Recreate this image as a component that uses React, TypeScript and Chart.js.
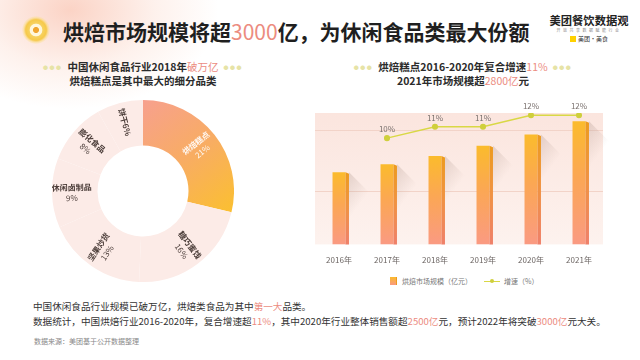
import React, { useEffect, useRef } from "react";
import { Chart, registerables } from "chart.js";

Chart.register(...registerables);

// ---------- data ----------
const pieCategories = ["烘焙糕点", "糖巧蜜饯", "坚果炒货", "休闲卤制品", "膨化食品", "饼干"];
const pieShares = [21, 16, 13, 9, 8, 6];

const years = ["2016年", "2017年", "2018年", "2019年", "2020年", "2021年"];
const marketSize = [1650, 1830, 2020, 2250, 2510, 2810];
const growthRate: (number | null)[] = [null, 10, 11, 11, 12, 12];
const gridValues = [1200, 2600];

const barLabel = "烘焙市场规模（亿元）";
const lineLabel = "增速（%）";

const FONT = '"Noto Sans CJK SC", "Noto Sans", sans-serif';
const HL = "#ec8c7f";
const LINE_COLOR = "#d9d845";
const PINK = "#fcebe7";
const SIDE = 3.5;

// ---------- doughnut ----------
const doughnutLabels = {
  id: "doughnutLabels",
  afterDatasetsDraw(chart: any) {
    const meta = chart.getDatasetMeta(0);
    const ctx = chart.ctx as CanvasRenderingContext2D;
    const data = chart.data.datasets[0].data as number[];
    const labels = chart.data.labels as string[];
    meta.data.forEach((arc: any, i: number) => {
      const p = arc.getProps(["x", "y", "startAngle", "endAngle", "innerRadius", "outerRadius"], true);
      const mid = (p.startAngle + p.endAngle) / 2;
      const r = (p.innerRadius + p.outerRadius) / 2 + 3;
      const px = p.x + Math.cos(mid) * r;
      const py = p.y + Math.sin(mid) * r;
      const rot = Math.cos(mid) < 0 ? mid - Math.PI : mid;
      const span = ((p.endAngle - p.startAngle) * 180) / Math.PI;
      ctx.save();
      ctx.translate(px, py);
      ctx.rotate(rot);
      ctx.textAlign = "center";
      ctx.textBaseline = "middle";
      ctx.fillStyle = i === 0 ? "rgba(255,255,255,0.92)" : "#4a3c38";
      if (span < 35) {
        ctx.font = `bold 8px ${FONT}`;
        ctx.fillText(`${labels[i]}${data[i]}%`, 0, 0);
      } else {
        ctx.font = `bold 8px ${FONT}`;
        ctx.fillText(labels[i], 0, -5);
        ctx.font = `8px ${FONT}`;
        ctx.fillText(`${data[i]}%`, 0, 5.5);
      }
      ctx.restore();
    });
  },
};

function DoughnutChart() {
  const ref = useRef<HTMLCanvasElement>(null);
  useEffect(() => {
    const chart = new Chart(ref.current!, {
      type: "doughnut",
      data: {
        labels: pieCategories,
        datasets: [
          {
            data: pieShares,
            borderWidth: 0,
            backgroundColor: (c: any) => {
              if (c.dataIndex !== 0) return PINK;
              const area = c.chart.chartArea;
              if (!area) return "#f8b060";
              const cx = (area.left + area.right) / 2;
              const cy = (area.top + area.bottom) / 2;
              const rr = (area.right - area.left) / 2;
              const g = c.chart.ctx.createLinearGradient(cx, cy - rr, cx + rr, cy + rr * 0.3);
              g.addColorStop(0, "#f7a08e");
              g.addColorStop(0.5, "#f8ad62");
              g.addColorStop(1, "#fbc12c");
              return g;
            },
          },
        ],
      },
      options: {
        responsive: false,
        animation: false,
        cutout: "50%",
        layout: { padding: 0 },
        plugins: { legend: { display: false }, tooltip: { enabled: false } },
      },
      plugins: [doughnutLabels],
    } as any);
    return () => chart.destroy();
  }, []);
  return (
    <canvas
      ref={ref}
      width={182}
      height={182}
      style={{ position: "absolute", left: 52, top: 100, width: 182, height: 182 }}
    />
  );
}

// ---------- bar + line ----------
const plotBackground = {
  id: "plotBackground",
  beforeDraw(chart: any) {
    const { ctx, chartArea: a } = chart;
    if (!a) return;
    ctx.save();
    const g = ctx.createLinearGradient(0, a.top, 0, a.bottom);
    g.addColorStop(0, "#fbe5de");
    g.addColorStop(1, "#fdf2ee");
    ctx.fillStyle = g;
    ctx.fillRect(a.left, a.top, a.right - a.left, a.bottom - a.top);
    ctx.restore();
  },
};

const bar3d = {
  id: "bar3d",
  beforeDatasetsDraw(chart: any) {
    const meta = chart.getDatasetMeta(1);
    const ctx = chart.ctx as CanvasRenderingContext2D;
    ctx.save();
    meta.data.forEach((bar: any) => {
      const p = bar.getProps(["x", "y", "base", "width"], true);
      const xr = p.x + p.width / 2 + SIDE;
      const len = 28;
      const g = ctx.createLinearGradient(xr, p.y, xr + len * 0.8, p.y + len * 0.6);
      g.addColorStop(0, "rgba(175,150,140,0.32)");
      g.addColorStop(1, "rgba(175,150,140,0)");
      ctx.fillStyle = g;
      ctx.beginPath();
      ctx.moveTo(xr, p.y);
      ctx.lineTo(xr + len, p.y + len);
      ctx.lineTo(xr + len, p.y + len + 30);
      ctx.lineTo(xr, Math.min(p.base, p.y + 70));
      ctx.closePath();
      ctx.fill();
    });
    ctx.restore();
  },
  afterDatasetDraw(chart: any, args: any) {
    if (args.index !== 1) return;
    const meta = chart.getDatasetMeta(1);
    const ctx = chart.ctx as CanvasRenderingContext2D;
    ctx.save();
    meta.data.forEach((bar: any) => {
      const p = bar.getProps(["x", "y", "base", "width"], true);
      const xl = p.x + p.width / 2;
      const g = ctx.createLinearGradient(0, p.y, 0, p.base);
      g.addColorStop(0, "#ec9b1e");
      g.addColorStop(0.5, "#f09244");
      g.addColorStop(1, "#ef806a");
      ctx.fillStyle = g;
      ctx.beginPath();
      ctx.moveTo(xl, p.y);
      ctx.lineTo(xl + SIDE, p.y + 1.5);
      ctx.lineTo(xl + SIDE, p.base);
      ctx.lineTo(xl, p.base);
      ctx.closePath();
      ctx.fill();
    });
    ctx.restore();
  },
  afterDatasetsDraw(chart: any) {
    const meta = chart.getDatasetMeta(0);
    const ctx = chart.ctx as CanvasRenderingContext2D;
    const data = chart.data.datasets[0].data as (number | null)[];
    ctx.save();
    ctx.font = `8px ${FONT}`;
    ctx.fillStyle = "#7a716e";
    ctx.textAlign = "center";
    ctx.textBaseline = "bottom";
    meta.data.forEach((pt: any, i: number) => {
      if (data[i] == null) return;
      const p = pt.getProps(["x", "y"], true);
      ctx.fillText(`${data[i]}%`, p.x, p.y - 5);
    });
    ctx.restore();
  },
};

function BarLineChart() {
  const ref = useRef<HTMLCanvasElement>(null);
  useEffect(() => {
    const chart = new Chart(ref.current!, {
      type: "bar",
      data: {
        labels: years,
        datasets: [
          {
            type: "line",
            label: lineLabel,
            data: growthRate,
            yAxisID: "y1",
            borderColor: LINE_COLOR,
            backgroundColor: LINE_COLOR,
            pointBackgroundColor: "#cfcf3c",
            pointBorderColor: "#cfcf3c",
            borderWidth: 1.5,
            pointRadius: 2.3,
            tension: 0,
            order: 0,
          },
          {
            type: "bar",
            label: barLabel,
            data: marketSize,
            yAxisID: "y",
            barPercentage: 0.27,
            categoryPercentage: 1,
            borderWidth: 0,
            order: 1,
            backgroundColor: (c: any) => {
              const y = c.chart.scales?.y;
              if (!y || c.raw == null) return "#f9ad50";
              const top = y.getPixelForValue(c.raw);
              const base = y.getPixelForValue(0);
              if (!isFinite(top) || !isFinite(base)) return "#f9ad50";
              const g = c.chart.ctx.createLinearGradient(0, top, 0, base);
              g.addColorStop(0, "#fbbb2c");
              g.addColorStop(0.45, "#fba754");
              g.addColorStop(1, "#fa9a82");
              return g;
            },
          },
        ],
      },
      options: {
        responsive: false,
        animation: false,
        layout: { padding: { left: 15, right: 27, top: 18, bottom: 2 } },
        plugins: { legend: { display: false }, tooltip: { enabled: false } },
        scales: {
          x: {
            grid: { display: false },
            border: { display: false },
            ticks: { font: { size: 8, family: FONT }, color: "#6b6462", padding: 3 },
          },
          y: {
            min: 0,
            max: 3000,
            position: "left",
            ticks: { display: false },
            grid: { color: "#f2d3c8", drawTicks: false, lineWidth: 1 },
            border: { display: false },
            afterBuildTicks: (s: any) => {
              s.ticks = gridValues.map((v) => ({ value: v }));
            },
          },
          y1: { min: 0.7, max: 12.2, display: false },
        },
      },
      plugins: [plotBackground, bar3d],
    } as any);
    return () => chart.destroy();
  }, []);
  return (
    <canvas
      ref={ref}
      width={330}
      height={175}
      style={{ position: "absolute", left: 300, top: 95, width: 330, height: 175 }}
    />
  );
}

// ---------- page ----------
const Dots = () => (
  <span style={{ color: "#e6e3a6", fontSize: 5, letterSpacing: 1.5, margin: "0 5px", verticalAlign: "2px" }}>●●●</span>
);

export default function App() {
  return (
    <div
      style={{
        position: "absolute",
        left: 0,
        top: 0,
        width: 640,
        height: 360,
        overflow: "hidden",
        background: "#ffffff",
        fontFamily: FONT,
      }}
    >
      <div
        style={{
          position: "absolute",
          left: -80,
          top: -90,
          width: 300,
          height: 200,
          background: "radial-gradient(ellipse at center, rgba(248,175,150,0.55) 0%, rgba(250,200,180,0.25) 40%, rgba(255,255,255,0) 70%)",
        }}
      />
      {/* icon */}
      <div
        style={{
          position: "absolute",
          left: 22,
          top: 16,
          width: 28,
          height: 28,
          borderRadius: "50%",
          background:
            "radial-gradient(circle, #f0a530 0%, #f0a530 14%, #fff7dc 16%, #fff7dc 30%, #f7d260 34%, #f6c94a 52%, rgba(250,220,120,0.5) 62%, rgba(255,255,255,0) 72%)",
        }}
      />
      {/* title */}
      <div
        style={{
          position: "absolute",
          left: 63,
          top: 19,
          fontSize: 21,
          fontWeight: 700,
          color: "#1f1f1f",
          lineHeight: "24px",
          whiteSpace: "nowrap",
        }}
      >
        烘焙市场规模将超<span style={{ color: HL, fontWeight: 400 }}>3000</span>亿，为休闲食品类最大份额
      </div>
      {/* logo */}
      <div style={{ position: "absolute", left: 548, top: 13, width: 82, textAlign: "center", whiteSpace: "nowrap" }}>
        <div style={{ fontSize: 11.3, fontWeight: 700, color: "#222", lineHeight: "14px" }}>美团餐饮数据观</div>
        <div style={{ fontSize: 4, color: "#888", lineHeight: "6px", letterSpacing: 2.5 }}>开放共享数据赋能行业</div>
        <div style={{ fontSize: 6, color: "#333", lineHeight: "9px", marginTop: 1 }}>
          <span style={{ display: "inline-block", width: 6, height: 6, background: "#ffd100", marginRight: 2, verticalAlign: "-1px" }} />
          美团·美食
        </div>
      </div>

      {/* left subtitle */}
      <div
        style={{
          position: "absolute",
          left: 22,
          width: 242,
          top: 60,
          textAlign: "center",
          fontSize: 10.5,
          fontWeight: 700,
          color: "#2b2b2b",
          lineHeight: "14px",
          whiteSpace: "nowrap",
        }}
      >
        <div>
          <Dots />中国休闲食品行业2018年<span style={{ color: HL, fontWeight: 400 }}>破万亿</span>
          <Dots />
        </div>
        <div>烘焙糕点是其中最大的细分品类</div>
      </div>

      {/* right subtitle */}
      <div
        style={{
          position: "absolute",
          left: 340,
          width: 246,
          top: 60,
          textAlign: "center",
          fontSize: 10.5,
          fontWeight: 700,
          color: "#2b2b2b",
          lineHeight: "14px",
          whiteSpace: "nowrap",
        }}
      >
        <div>
          <Dots />烘焙糕点2016-2020年复合增速<span style={{ color: HL, fontWeight: 400 }}>11%</span>
          <Dots />
        </div>
        <div>
          2021年市场规模超<span style={{ color: HL, fontWeight: 400 }}>2800亿</span>元
        </div>
      </div>

      <DoughnutChart />
      <BarLineChart />

      {/* legend */}
      <div
        style={{
          position: "absolute",
          left: 390,
          top: 276,
          fontSize: 7,
          color: "#777",
          lineHeight: "10px",
          whiteSpace: "nowrap",
          display: "flex",
          alignItems: "center",
        }}
      >
        <span
          style={{
            display: "inline-block",
            width: 6,
            height: 8,
            background: "linear-gradient(#fbbb2c, #fa9a82)",
            borderRight: "1.5px solid #ec9b1e",
            marginRight: 5,
          }}
        />
        <span>{barLabel}</span>
        <span style={{ display: "inline-block", position: "relative", width: 16, height: 8, marginLeft: 12, marginRight: 4 }}>
          <span style={{ position: "absolute", left: 0, top: 3.5, width: 16, height: 1, background: LINE_COLOR }} />
          <span
            style={{ position: "absolute", left: 6, top: 2, width: 4, height: 4, borderRadius: "50%", background: "#cfcf3c" }}
          />
        </span>
        <span>{lineLabel}</span>
      </div>

      {/* footnotes */}
      <div
        style={{
          position: "absolute",
          left: 33,
          top: 299,
          fontSize: 9.6,
          color: "#333",
          lineHeight: "15px",
          whiteSpace: "nowrap",
        }}
      >
        <div>
          中国休闲食品行业规模已破万亿，烘焙类食品为其中<span style={{ color: HL }}>第一大</span>品类。
        </div>
        <div>
          数据统计，中国烘焙行业2016-2020年，复合增速超<span style={{ color: HL }}>11%</span>
          ，其中2020年行业整体销售额超<span style={{ color: HL }}>2500亿</span>元，预计2022年将突破
          <span style={{ color: HL }}>3000亿</span>元大关。
        </div>
      </div>
      <div style={{ position: "absolute", left: 34, top: 336, fontSize: 7, color: "#888", whiteSpace: "nowrap" }}>
        数据来源：美团基于公开数据整理
      </div>
    </div>
  );
}
